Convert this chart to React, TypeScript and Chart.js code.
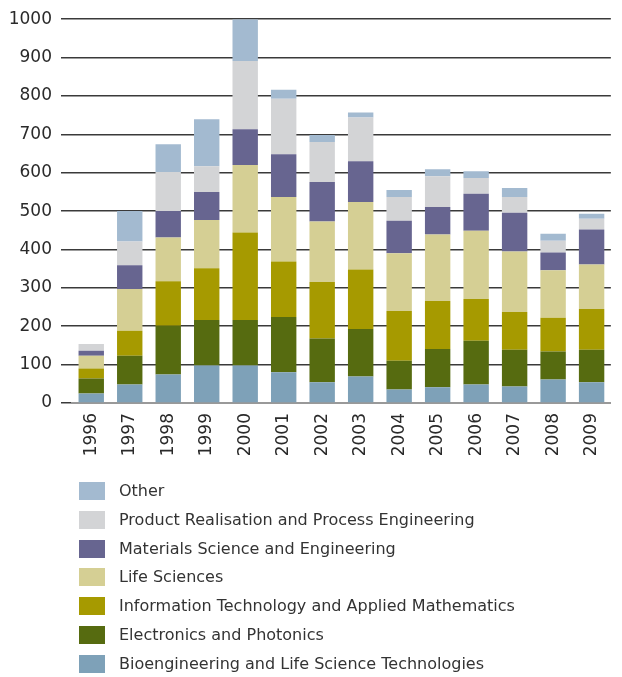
import React, { useEffect, useRef } from "react";
import { Chart, registerables } from "chart.js";

Chart.register(...registerables);

const years = ["1996", "1997", "1998", "1999", "2000", "2001", "2002", "2003", "2004", "2005", "2006", "2007", "2008", "2009"];
const yTicks = [0, 100, 200, 300, 400, 500, 600, 700, 800, 900, 1000];

const bioengineering = [25, 48, 74, 98, 98, 80, 54, 69, 35, 41, 48, 43, 61, 54];
const electronics = [39, 75, 127, 118, 118, 144, 114, 124, 75, 100, 114, 96, 73, 85];
const informationTech = [26, 65, 116, 135, 228, 145, 147, 155, 130, 125, 109, 98, 88, 106];
const lifeSciences = [33, 109, 114, 126, 176, 168, 158, 176, 150, 173, 178, 158, 124, 116];
const materials = [13, 62, 69, 73, 93, 111, 103, 106, 85, 72, 96, 101, 46, 91];
const productRealisation = [18, 62, 102, 67, 178, 145, 104, 114, 62, 80, 41, 41, 31, 28];
const other = [0, 79, 72, 122, 109, 23, 18, 13, 18, 18, 18, 23, 18, 13];

const seriesNames = [
  "Bioengineering and Life Science Technologies",
  "Electronics and Photonics",
  "Information Technology and Applied Mathematics",
  "Life Sciences",
  "Materials Science and Engineering",
  "Product Realisation and Process Engineering",
  "Other",
];
const seriesData = [bioengineering, electronics, informationTech, lifeSciences, materials, productRealisation, other];
const seriesColors = ["#7ea1b8", "#566b10", "#a69a00", "#d5cf94", "#676590", "#d3d4d6", "#a3bad0"];

const FONT = "'DejaVu Sans', sans-serif";
const LEGEND_FONT = "'DejaVu Sans', sans-serif";

const verticalLegend = {
  id: "verticalLegend",
  afterDraw(chart: any) {
    const ctx = chart.ctx;
    const datasets = chart.data.datasets;
    const n = datasets.length;
    ctx.save();
    ctx.font = "16px " + LEGEND_FONT;
    ctx.textBaseline = "middle";
    ctx.textAlign = "left";
    for (let row = 0; row < n; row++) {
      const ds = datasets[n - 1 - row];
      const y = 482 + row * 28.83;
      ctx.fillStyle = ds.backgroundColor;
      ctx.fillRect(79, Math.round(y), 26, 18);
      ctx.fillStyle = "#333333";
      ctx.fillText(ds.label, 119, Math.round(y) + 10);
    }
    ctx.restore();
  },
};

export default function App() {
  const ref = useRef<HTMLCanvasElement | null>(null);

  useEffect(() => {
    document.body.style.margin = "0";
    const canvas = ref.current;
    if (!canvas) return;
    const chart = new Chart(canvas, {
      type: "bar",
      data: {
        labels: years,
        datasets: seriesNames.map((name, i) => ({
          label: name,
          data: seriesData[i],
          backgroundColor: seriesColors[i],
          borderWidth: 0,
          categoryPercentage: 1,
          barPercentage: 0.66,
        })),
      },
      options: {
        responsive: false,
        animation: false,
        layout: { padding: { top: 12, right: 0, left: 0, bottom: 207 } },
        plugins: {
          legend: { display: false },
          tooltip: { enabled: false },
        },
        scales: {
          x: {
            stacked: true,
            grid: { display: false, drawTicks: false },
            border: { display: true, color: "#999999", width: 2 },
            ticks: {
              minRotation: 90,
              maxRotation: 90,
              padding: 10,
              color: "#2a2a2a",
              font: { family: FONT, size: 17 },
            },
            afterFit: (scale: any) => {
              scale.height = 67;
            },
          },
          y: {
            stacked: true,
            min: 0,
            max: 1000,
            afterBuildTicks: (scale: any) => {
              scale.ticks = yTicks.map((v) => ({ value: v }));
            },
            grid: {
              color: "#3a3a3a",
              lineWidth: 1.5,
              tickLength: 11,
              drawTicks: true,
            },
            border: { display: false },
            ticks: {
              padding: 9,
              color: "#2a2a2a",
              font: { family: FONT, size: 17 },
              callback: (v: any) => String(v),
            },
            afterFit: (scale: any) => {
              scale.width = 72;
            },
          },
        },
      },
      plugins: [verticalLegend],
    });
    return () => chart.destroy();
  }, []);

  return (
    <div style={{ width: 622 }}>
      <canvas ref={ref} width={622} height={677} style={{ display: "block" }} />
    </div>
  );
}
